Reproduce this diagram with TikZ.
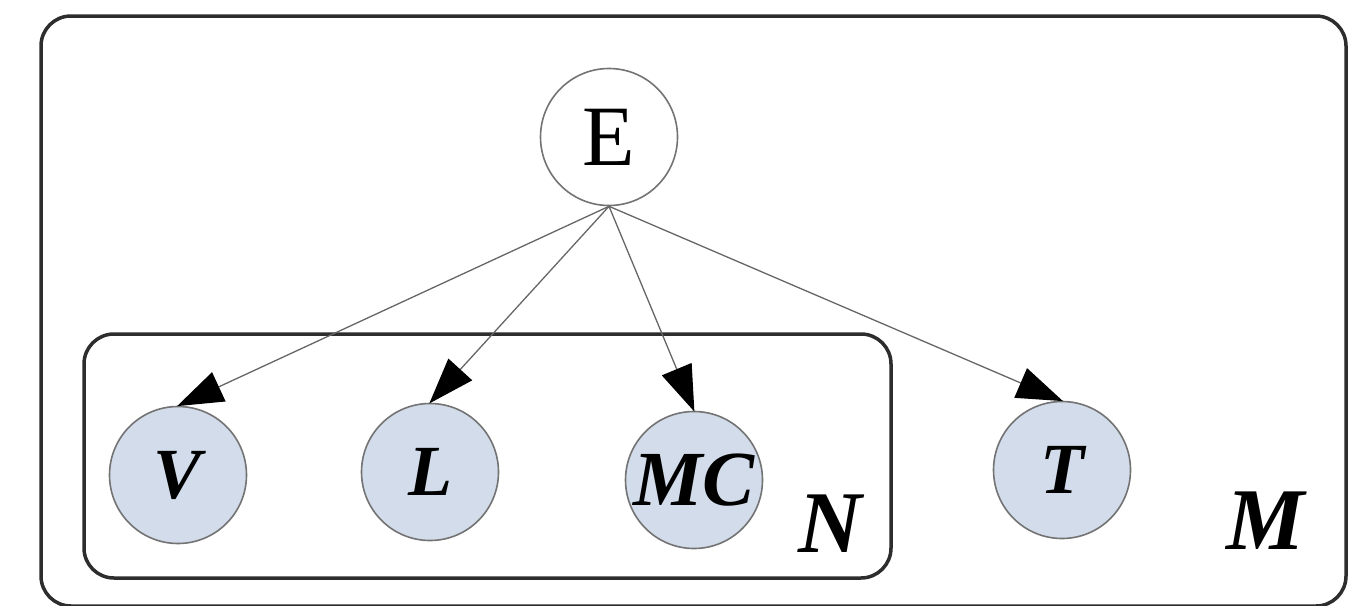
\documentclass[tikz,border=0pt]{standalone}
\usepackage{fontspec}
\setmainfont{Liberation Serif}
\usetikzlibrary{arrows.meta}
\definecolor{obsfill}{RGB}{210,220,234}
\definecolor{frame}{RGB}{45,45,45}
\tikzset{
  var/.style={circle, draw=black!55, line width=1.6pt, minimum size=137pt, inner sep=0pt},
  obs/.style={var, fill=obsfill, font=\fontsize{72}{72}\selectfont\bfseries\itshape},
  plate/.style={draw=frame, line width=3.5pt, rounded corners=30pt},
  platelabel/.style={font=\fontsize{88}{88}\selectfont\bfseries\itshape},
  edge/.style={draw=black!60, line width=1.3pt, -{Triangle[length=46pt,width=32pt,color=black]}, shorten >=-1pt}
}
\begin{document}
\begin{tikzpicture}[x=1pt,y=-1pt]
\useasboundingbox (0,0) rectangle (1348,605);
\clip (0,0) rectangle (1348,605);
\draw[plate] (41,16) rectangle (1346,606);
\draw[plate] (84,334) rectangle (891,578);
\node[var, font=\fontsize{86}{86}\selectfont] (E) at (609,137) {E};
\node[obs] (V) at (178,475) {V};
\node[obs] (L) at (430,472) {L};
\node[obs] (MC) at (694,480) {\fontsize{78}{78}\selectfont MC};
\node[obs] (T) at (1062,470) {T};
\node[platelabel] (N) at (830,524) {N};
\node[platelabel] (M) at (1266,521) {M};
\draw[edge] (E.south) -- (V.north);
\draw[edge] (E.south) -- (L.north);
\draw[edge] (E.south) -- (MC.north);
\draw[edge] (E.south) -- (T.north);
\end{tikzpicture}
\end{document}
